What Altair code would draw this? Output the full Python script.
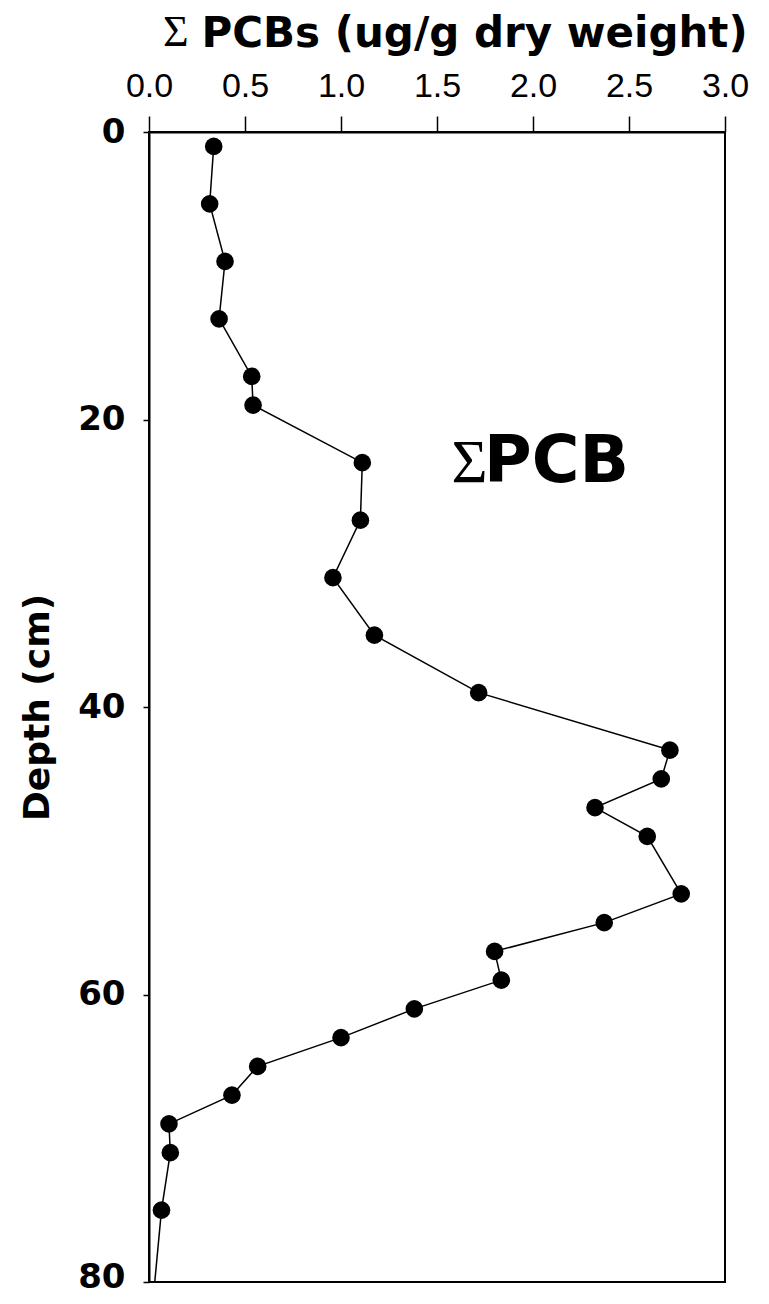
import altair as alt
import pandas as pd

# Depth (cm) and sum PCB concentration (ug/g dry weight)
depth = [1, 5, 9, 13, 17, 19, 23, 27, 31, 35, 39, 43, 45, 47, 49, 53, 55, 57, 59,
         61, 63, 65, 67, 69, 71, 75]
pcb = [0.337, 0.316, 0.396, 0.365, 0.535, 0.542, 1.111, 1.101, 0.958, 1.174, 1.717,
       2.713, 2.668, 2.323, 2.595, 2.772, 2.371, 1.80, 1.835, 1.382, 1.00, 0.566,
       0.432, 0.104, 0.111, 0.065]
# the profile line continues to the bottom of the axis
line_tail_depth = [80]
line_tail_pcb = [0.03]

x_ticks = [0.0, 0.5, 1.0, 1.5, 2.0, 2.5, 3.0]
y_ticks = [0, 20, 40, 60, 80]

x_title = "PCBs (ug/g dry weight)"
sigma = "Σ"
panel_label = "PCB"

pts = pd.DataFrame({"depth": depth, "pcb": pcb})
line_df = pd.DataFrame({"depth": depth + line_tail_depth, "pcb": pcb + line_tail_pcb})

xscale = alt.Scale(domain=[0, 3], nice=False, zero=False)
yscale = alt.Scale(domain=[0, 80], nice=False, reverse=True)

xaxis = alt.Axis(
    orient="top", values=x_ticks, format=".1f", title=x_title,
    labelFont="Liberation Sans", labelFontSize=34, labelColor="black",
    labelPadding=13, tickSize=16, tickWidth=1.5, tickColor="black",
    domainColor="black", domainWidth=2, grid=False,
    titleFont="DejaVu Sans", titleFontWeight="bold", titleFontSize=42,
    titleColor="black", titleAlign="left", titleAnchor="start",
    titleBaseline="alphabetic", titleX=52, titleY=-86, labelFlush=False,
)
yaxis = alt.Axis(
    values=y_ticks, title="Depth (cm)",
    labelFont="DejaVu Sans", labelFontWeight="bold", labelFontSize=34,
    labelColor="black", labelPadding=18, tickSize=6, tickWidth=1.5,
    tickColor="black", domainColor="black", domainWidth=2, grid=False,
    labelOffset=alt.condition("datum.value == 80", alt.value(-5), alt.value(0)),
    titleFont="DejaVu Sans", titleFontWeight="bold", titleFontSize=36,
    titleColor="black", titleBaseline="alphabetic", titleAngle=270,
    titleX=-101, titleY=575, labelFlush=False,
)

line = alt.Chart(line_df).mark_line(color="black", strokeWidth=1.5).encode(
    x=alt.X("pcb:Q", scale=xscale, axis=xaxis),
    y=alt.Y("depth:Q", scale=yscale, axis=yaxis),
    order=alt.Order("depth:Q"),
)

points = alt.Chart(pts).mark_point(
    shape="circle", filled=True, color="black", opacity=1, size=310
).encode(
    x=alt.X("pcb:Q", scale=xscale),
    y=alt.Y("depth:Q", scale=yscale),
)

# Sigma in front of the x-axis title
title_sigma = alt.Chart(pd.DataFrame({"t": [sigma]})).mark_text(
    font="Liberation Serif", fontSize=44, align="left", baseline="alphabetic",
    color="black",
).encode(x=alt.value(14), y=alt.value(-86), text="t:N")

# In-panel label "ΣPCB"
lab_sigma = alt.Chart(pd.DataFrame({"t": [sigma], "x": [1.575], "y": [24.37]})).mark_text(
    font="Liberation Serif", fontSize=62, align="left", baseline="alphabetic",
    color="black",
).encode(x=alt.X("x:Q", scale=xscale), y=alt.Y("y:Q", scale=yscale), text="t:N")

lab_pcb = alt.Chart(pd.DataFrame({"t": [panel_label], "x": [1.745], "y": [24.37]})).mark_text(
    font="DejaVu Sans", fontWeight="bold", fontSize=65, align="left",
    baseline="alphabetic", color="black",
).encode(x=alt.X("x:Q", scale=xscale), y=alt.Y("y:Q", scale=yscale), text="t:N")

chart = alt.layer(line, points, title_sigma, lab_sigma, lab_pcb).properties(
    width=576, height=1150,
    autosize=alt.AutoSizeParams(type="none"),
    padding={"left": 141, "top": 124, "right": 36, "bottom": 14},
    background="white",
).configure_view(stroke="black", strokeWidth=2)

chart.save("out.html", embed_options={"renderer": "svg", "actions": False})
